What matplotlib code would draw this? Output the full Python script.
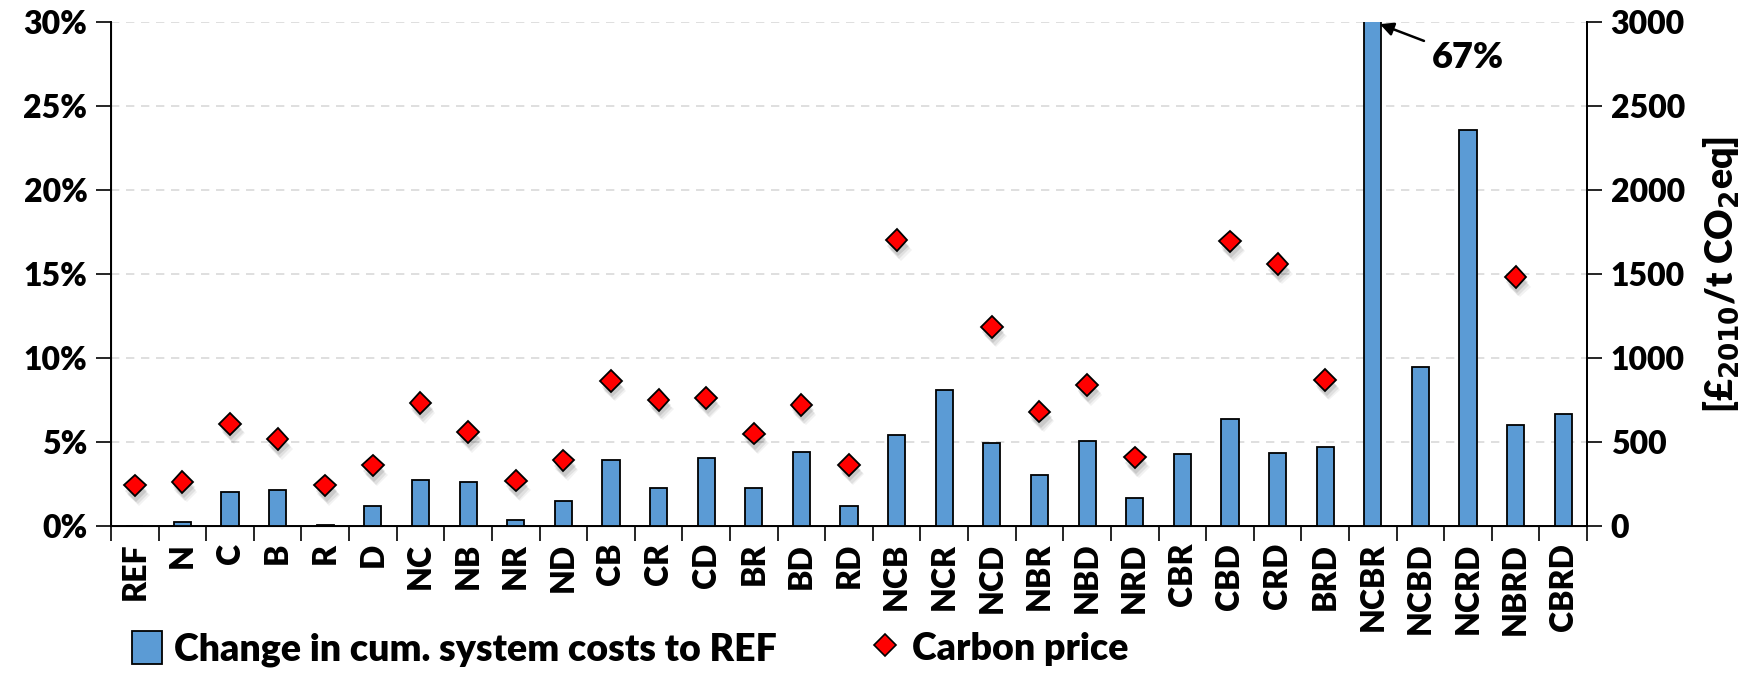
import matplotlib

matplotlib.use("Agg")

import matplotlib.patheffects as pe
import matplotlib.pyplot as plt
import numpy as np
from matplotlib.lines import Line2D
from matplotlib.patches import Patch

# Scenario labels and results
scenarios = [
    "REF", "N", "C", "B", "R", "D", "NC", "NB", "NR", "ND", "CB", "CR", "CD",
    "BR", "BD", "RD", "NCB", "NCR", "NCD", "NBR", "NBD", "NRD", "CBR", "CBD",
    "CRD", "BRD", "NCBR", "NCBD", "NCRD", "NBRD", "CBRD",
]
# change in cumulative system costs relative to REF [%]
cost_change = [
    0.0, 0.23, 2.05, 2.16, 0.05, 1.17, 2.71, 2.65, 0.34, 1.46, 3.96, 2.25, 4.07,
    2.29, 4.41, 1.19, 5.40, 8.09, 4.96, 3.03, 5.06, 1.65, 4.28, 6.36,
    4.32, 4.68, 67.0, 9.47, 23.6, 6.02, 6.69,
]
# carbon price [GBP2010/t CO2eq]; nan where no price reported
carbon_price = [
    242, 263, 609, 518, 242, 361, 732, 560, 270, 391, 864, 752, 764,
    550, 722, 365, 1703, np.nan, 1187, 682, 839, 408, np.nan, 1696,
    1561, 870, np.nan, np.nan, np.nan, 1484, np.nan,
]
pct_ticks = [0, 5, 10, 15, 20, 25, 30]
price_ticks = [0, 500, 1000, 1500, 2000, 2500, 3000]

plt.rcParams["font.family"] = ["Lato", "DejaVu Sans"]
plt.rcParams["font.weight"] = "heavy"
plt.rcParams["mathtext.default"] = "bf"

BAR_COLOR = "#5B9BD5"
FS = 23
WEIGHT = "heavy"

fig = plt.figure(figsize=(17.62, 6.80), dpi=100)
ax = fig.add_axes([0.063, 0.2265, 0.8377, 0.7405])
ax2 = ax.twinx()

x = np.arange(len(scenarios))
ax.bar(x, cost_change, width=0.36, color=BAR_COLOR, edgecolor="black",
       linewidth=1.3, zorder=3)

ax.set_xlim(-0.5, len(scenarios) - 0.5)
ax.set_ylim(0, 30)
ax.set_yticks(pct_ticks)
ax.set_yticklabels([f"{t}%" for t in pct_ticks], fontsize=FS, fontweight=WEIGHT)
ax.yaxis.grid(True, linestyle=(0, (5, 4)), color="#D9D9D9", linewidth=1.2, zorder=0)
ax.set_axisbelow(True)

ax.set_xticks(x)
ax.set_xticklabels(scenarios, rotation=90, fontsize=FS, fontweight=WEIGHT)
ax.set_xticks(np.arange(-0.5, len(scenarios), 1.0), minor=True)
ax.tick_params(axis="x", which="major", length=0, pad=12)
ax.tick_params(axis="x", which="minor", length=11, width=1.2, direction="out")
ax.tick_params(axis="y", length=11, width=1.2, direction="out", pad=6)

ax.spines["top"].set_visible(False)
ax2.spines["top"].set_visible(False)
for spine in ax.spines.values():
    spine.set_linewidth(1.4)
ax2.spines["right"].set_linewidth(1.4)

# soft drop shadow under the diamonds
shadow = [
    pe.SimplePatchShadow(offset=(3, -7), shadow_rgbFace="black", alpha=0.05),
    pe.SimplePatchShadow(offset=(2, -6), shadow_rgbFace="black", alpha=0.07),
    pe.SimplePatchShadow(offset=(1, -4), shadow_rgbFace="black", alpha=0.10),
    pe.Normal(),
]
ax2.plot(x, carbon_price, linestyle="none", marker="D", markersize=11,
         markerfacecolor="#FF0000", markeredgecolor="black",
         markeredgewidth=1.3, path_effects=shadow, zorder=4)
ax2.set_ylim(0, 3000)
ax2.set_yticks(price_ticks)
ax2.set_yticklabels([str(t) for t in price_ticks], fontsize=FS, fontweight=WEIGHT)
ax2.tick_params(axis="y", length=11, width=1.2, direction="out", pad=6)
ax2.set_ylabel(r"[£$_{2010}$/t CO$_{2}$eq]", fontsize=27,
               fontweight=WEIGHT, labelpad=12)

# the NCBR bar runs off the scale
ax.annotate(f"{cost_change[26]:.0f}%", xy=(26.15, 29.9), xytext=(28.0, 27.9),
            fontsize=26, fontweight=WEIGHT, ha="center", va="center",
            arrowprops=dict(arrowstyle="-|>", color="black", lw=1.8,
                            mutation_scale=20, shrinkA=4, shrinkB=0))

handles = [
    Patch(facecolor=BAR_COLOR, edgecolor="black", linewidth=1.3,
          label="Change in cum. system costs to REF"),
    Line2D([], [], linestyle="none", marker="D", markersize=11,
           markerfacecolor="#FF0000", markeredgecolor="black",
           markeredgewidth=1.2, label="Carbon price"),
]
fig.legend(handles=handles, loc="lower left", bbox_to_anchor=(0.056, -0.03),
           ncol=2, frameon=False, handlelength=0.8, handleheight=1.0,
           handletextpad=0.3, columnspacing=2.5,
           prop={"weight": WEIGHT, "size": 27})

fig.savefig("out.png", dpi=100)
